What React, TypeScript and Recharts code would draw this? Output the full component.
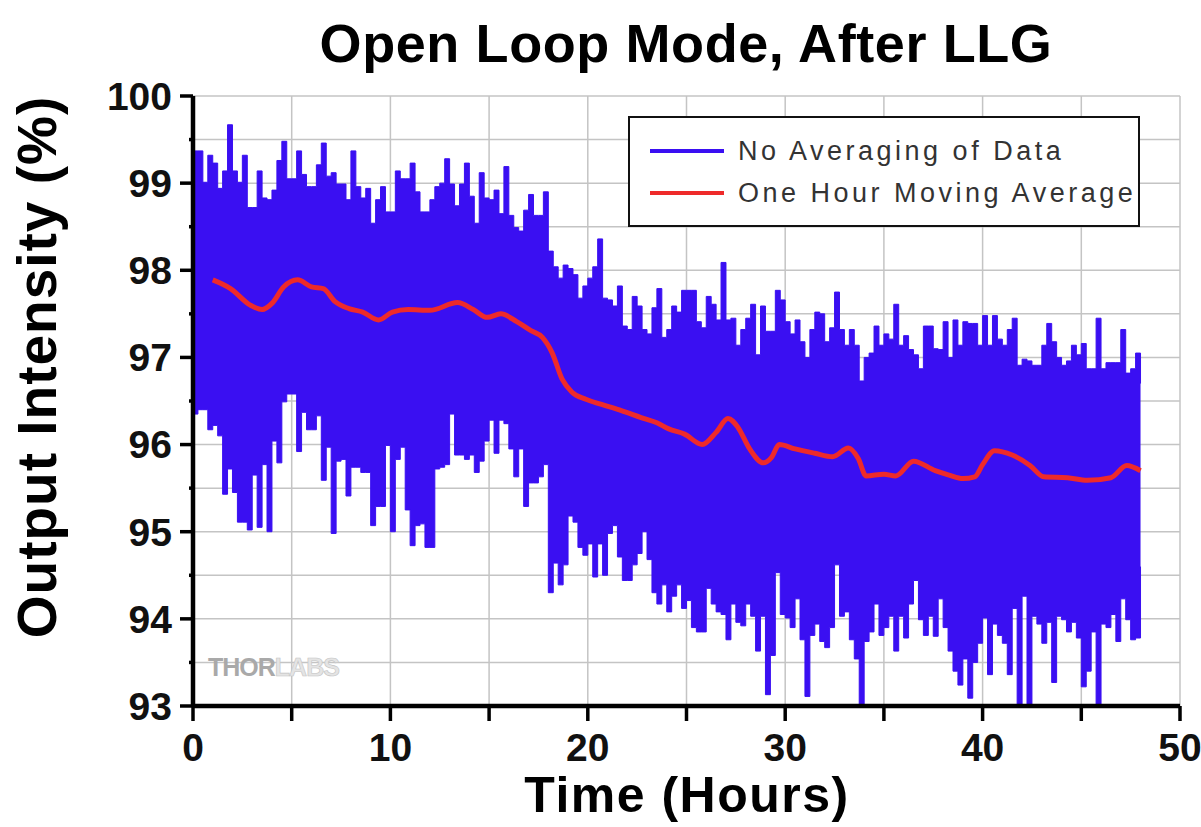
import React from "react";
import {
  ComposedChart,
  Area,
  Line,
  XAxis,
  YAxis,
  CartesianGrid,
  Legend,
} from "recharts";

// raw samples in 0.25 h steps (upper / lower edge of the noise band)
const SAMPLE_START = 0;
const SAMPLE_STEP = 0.25;

const rawHigh = [
  99.37, 99.37, 99.01, 99.32, 99.23, 98.94, 99.14, 99.67,
  99.14, 99.01, 99.32, 98.72, 98.72, 99.14, 98.83, 98.81,
  98.92, 99.26, 99.48, 99.05, 99.05, 99.37, 99.1, 98.96,
  98.96, 99.21, 99.46, 99.08, 99.12, 98.99, 98.99, 98.81,
  99.37, 98.96, 98.83, 98.94, 98.54, 98.81, 98.96, 98.67,
  98.67, 99.14, 99.05, 99.05, 99.23, 98.9, 98.67, 98.67,
  98.81, 98.96, 99.0, 99.28, 98.99, 98.74, 98.99, 99.23,
  98.85, 98.54, 99.12, 98.83, 98.81, 98.92, 98.65, 99.19,
  98.63, 98.49, 98.45, 98.69, 98.87, 98.63, 98.63, 98.9,
  98.22, 98.04, 97.91, 98.06, 98.02, 97.95, 97.68, 97.82,
  97.91, 98.04, 98.36, 97.68, 97.66, 97.59, 97.82, 97.36,
  97.32, 97.7, 97.59, 97.32, 97.27, 97.57, 97.79, 97.23,
  97.32, 97.59, 97.52, 97.77, 97.77, 97.77, 97.41, 97.34,
  97.7, 97.61, 97.43, 98.09, 97.43, 97.45, 97.14, 97.32,
  97.45, 97.61, 97.03, 97.59, 97.3, 97.3, 97.77, 97.66,
  97.41, 97.27, 97.43, 97.18, 97.0, 97.32, 97.52, 97.5,
  97.18, 97.34, 97.75, 97.32, 97.14, 97.32, 97.14, 96.73,
  97.0, 97.05, 97.36, 97.14, 97.27, 97.21, 97.61, 97.14,
  97.25, 97.09, 97.03, 96.87, 97.36, 97.36, 97.1, 97.09,
  97.41, 97.0, 97.43, 97.14, 97.41, 97.39, 97.39, 97.14,
  97.48, 97.14, 97.48, 97.21, 97.14, 97.32, 97.45, 96.91,
  96.98, 96.96, 96.91, 96.91, 97.14, 97.39, 97.18, 97.0,
  96.91, 96.96, 97.14, 97.03, 97.16, 96.87, 96.87, 97.45,
  96.87, 96.94, 96.94, 96.94, 97.32, 96.82, 96.87, 97.05,
  96.7,
];

const rawLow = [
  96.35, 96.4, 96.4, 96.17, 96.22, 96.1, 95.43, 95.72,
  95.45, 95.11, 95.11, 95.02, 95.65, 95.05, 95.77, 95.0,
  96.04, 95.79, 96.49, 96.58, 96.58, 95.92, 96.37, 96.17,
  96.17, 96.33, 95.59, 95.97, 94.98, 95.81, 95.83, 95.41,
  95.74, 95.74, 95.68, 95.68, 95.07, 95.29, 95.29, 95.99,
  95.0, 95.83, 95.97, 95.25, 94.84, 95.07, 95.09, 94.82,
  94.82, 95.72, 95.74, 95.77, 96.35, 95.88, 95.88, 95.83,
  95.88, 95.68, 95.81, 96.04, 96.28, 95.9, 96.28, 96.24,
  95.95, 95.63, 95.95, 95.29, 95.56, 95.56, 95.63, 95.77,
  94.3, 94.64, 94.39, 94.62, 95.18, 95.11, 94.82, 94.73,
  94.86, 94.48, 94.86, 94.5, 94.98, 95.07, 94.71, 94.44,
  94.44, 94.62, 94.75, 95.0, 94.68, 94.3, 94.17, 94.39,
  94.08, 94.26, 94.39, 94.12, 94.21, 93.9, 93.85, 93.85,
  94.35, 94.17, 94.08, 94.05, 93.76, 94.17, 93.96, 93.92,
  94.17, 94.03, 93.63, 94.03, 93.13, 93.58, 94.53, 94.05,
  94.01, 93.9, 94.23, 93.76, 93.11, 93.81, 93.94, 93.74,
  93.67, 93.9, 94.62, 94.03, 94.08, 93.76, 93.54, 93.0,
  93.74, 93.85, 94.17, 93.81, 93.9, 94.03, 93.63, 94.03,
  93.78, 94.17, 94.44, 93.99, 93.81, 94.03, 93.8, 94.23,
  93.9, 93.63, 93.4, 93.24, 93.54, 93.09, 93.5, 93.72,
  94.01, 93.36, 93.94, 93.81, 93.72, 93.36, 94.12, 93.0,
  94.26, 93.02, 94.03, 93.94, 93.72, 93.96, 93.27, 94.03,
  93.99, 93.85, 93.96, 93.78, 93.22, 93.4, 93.85, 93.02,
  93.94, 93.9, 94.05, 93.74, 94.23, 93.99, 93.76, 93.78,
  94.6,
];

// one hour moving average
const avgHours = [
  1.0, 1.9, 2.9, 3.5, 4.0, 4.6, 5.3, 6.0, 6.6, 7.2, 7.9, 8.6, 9.4, 10.1,
  10.9, 12.0, 13.4, 14.2, 14.9, 15.6, 16.4, 17.1, 17.7, 18.2, 18.7, 19.2,
  19.9, 20.7, 21.7, 22.7, 23.5, 24.1, 24.9, 25.8, 26.5, 27.1, 27.6, 28.2,
  28.9, 29.3, 29.7, 30.5, 31.5, 32.4, 33.2, 33.7, 34.1, 35.0, 35.6, 36.5,
  37.6, 38.3, 39.0, 39.6, 40.0, 40.6, 41.5, 42.4, 43.1, 44.3, 45.3, 46.5,
  47.3, 48.0,
];
const avgValues = [
  97.89, 97.79, 97.6, 97.55, 97.62, 97.81, 97.89, 97.81, 97.79, 97.64, 97.56,
  97.52, 97.43, 97.52, 97.55, 97.54, 97.63, 97.55, 97.46, 97.5, 97.41, 97.31,
  97.23, 97.05, 96.75, 96.6, 96.52, 96.46, 96.39, 96.31, 96.25, 96.18, 96.12,
  96.0, 96.14, 96.3, 96.2, 95.95, 95.79, 95.85, 96.0, 95.95, 95.9, 95.86,
  95.96, 95.84, 95.64, 95.66, 95.64, 95.81, 95.7, 95.65, 95.61, 95.63, 95.77,
  95.93, 95.88, 95.76, 95.63, 95.62, 95.59, 95.62, 95.76, 95.7,
];

const xTicks = [0, 5, 10, 15, 20, 25, 30, 35, 40, 45, 50];
const yTicks = [93, 93.5, 94, 94.5, 95, 95.5, 96, 96.5, 97, 97.5, 98, 98.5, 99, 99.5, 100];

const BLUE = "#3a0ff2";
const RED = "#ee2a2a";
const FONT = "'Liberation Sans', Arial, Helvetica, sans-serif";

const bandData = rawHigh.map((hi, i) => ({
  t: SAMPLE_START + i * SAMPLE_STEP,
  band: [rawLow[i], hi],
}));
const avgData = avgHours.map((t, i) => ({ t, avg: avgValues[i] }));

function YTick(props: any) {
  const { x, y, payload } = props;
  const major = Number.isInteger(payload.value);
  return (
    <g>
      <line
        x1={x + 8 + (major ? 0 : 9)}
        x2={x + 21}
        y1={y}
        y2={y}
        stroke="#000"
        strokeWidth={3.5}
      />
      {major && (
        <text
          x={x}
          y={y}
          dy="0.355em"
          textAnchor="end"
          fontFamily={FONT}
          fontWeight="bold"
          fontSize={39}
          fill="#111"
        >
          {payload.value}
        </text>
      )}
    </g>
  );
}

function LegendBox(props: any) {
  const { payload = [] } = props;
  return (
    <div
      style={{
        width: 508,
        height: 107,
        border: "2px solid #111",
        background: "#fff",
        position: "relative",
        fontFamily: FONT,
      }}
    >
      {payload.map((entry: any, i: number) => (
        <div
          key={entry.value}
          style={{
            position: "absolute",
            left: 20,
            top: 16 + i * 42,
            height: 34,
            display: "flex",
            alignItems: "center",
          }}
        >
          <div style={{ width: 74, height: 4, background: entry.color }} />
          <span
            style={{
              marginLeft: 14,
              fontSize: 27,
              letterSpacing: 3.5,
              color: "#333",
              whiteSpace: "nowrap",
            }}
          >
            {entry.value}
          </span>
        </div>
      ))}
    </div>
  );
}

export default function App() {
  return (
    <div
      style={{
        position: "absolute",
        left: 0,
        top: 0,
        width: 1201,
        height: 827,
        background: "#fff",
        fontFamily: FONT,
      }}
    >
      <ComposedChart
        width={1201}
        height={827}
        margin={{ top: 96, right: 21, left: 0, bottom: 0 }}
      >
        <CartesianGrid stroke="#c4c4c4" strokeWidth={1.5} />
        <XAxis
          type="number"
          dataKey="t"
          domain={[0, 50]}
          ticks={xTicks}
          allowDataOverflow
          height={121}
          tickSize={15}
          tickMargin={12}
          tickLine={{ stroke: "#000", strokeWidth: 3.5 }}
          axisLine={{ stroke: "#000", strokeWidth: 4.5 }}
          tick={{ fontSize: 39, fontWeight: "bold", fill: "#111", fontFamily: FONT }}
          tickFormatter={(v: number) => (v % 10 === 0 ? String(v) : "")}
        />
        <XAxis
          xAxisId="top"
          orientation="top"
          type="number"
          domain={[0, 50]}
          height={0}
          tick={false}
          tickLine={false}
          axisLine={{ stroke: "#000", strokeWidth: 4.5 }}
        />
        <YAxis
          type="number"
          domain={[93, 100]}
          ticks={yTicks}
          allowDataOverflow
          width={193}
          tickSize={13}
          tickMargin={8}
          tickLine={false}
          axisLine={{ stroke: "#000", strokeWidth: 4.5 }}
          tick={<YTick />}
          interval={0}
        />
        <YAxis
          yAxisId="right"
          orientation="right"
          type="number"
          domain={[93, 100]}
          width={0}
          tick={false}
          tickLine={false}
          axisLine={{ stroke: "#000", strokeWidth: 4.5 }}
        />
        <Area
          data={bandData}
          dataKey="band"
          name="No Averaging of Data"
          type="stepAfter"
          stroke={BLUE}
          strokeWidth={1}
          fill={BLUE}
          fillOpacity={1}
          dot={false}
          activeDot={false}
          legendType="line"
          isAnimationActive={false}
        />
        <Line
          data={avgData}
          dataKey="avg"
          name="One Hour Moving Average"
          type="monotone"
          stroke={RED}
          strokeWidth={5}
          dot={false}
          activeDot={false}
          legendType="line"
          isAnimationActive={false}
        />
        <Legend
          layout="horizontal"
          verticalAlign="middle"
          align="center"
          content={<LegendBox />}
          wrapperStyle={{ left: 628, top: 116, width: 512, height: 111 }}
        />
      </ComposedChart>

      <div
        style={{
          position: "absolute",
          left: 686,
          top: 16,
          transform: "translateX(-50%)",
          fontSize: 54,
          lineHeight: "54px",
          fontWeight: "bold",
          letterSpacing: 0.6,
          whiteSpace: "nowrap",
          color: "#000",
        }}
      >
        Open Loop Mode, After LLG
      </div>
      <div
        style={{
          position: "absolute",
          left: 37,
          top: 367,
          transform: "translate(-50%, -50%) rotate(-90deg)",
          fontSize: 55,
          lineHeight: "55px",
          fontWeight: "bold",
          letterSpacing: 1,
          whiteSpace: "nowrap",
          color: "#000",
        }}
      >
        Output Intensity (%)
      </div>
      <div
        style={{
          position: "absolute",
          left: 687,
          top: 770,
          transform: "translateX(-50%)",
          fontSize: 50,
          lineHeight: "50px",
          fontWeight: "bold",
          letterSpacing: 1.5,
          whiteSpace: "nowrap",
          color: "#000",
        }}
      >
        Time (Hours)
      </div>
      <div
        style={{
          position: "absolute",
          left: 208,
          top: 655,
          fontSize: 25,
          lineHeight: "25px",
          fontWeight: "bold",
          letterSpacing: -1,
          whiteSpace: "nowrap",
        }}
      >
        <span style={{ color: "#a9a9a9" }}>THOR</span>
        <span style={{ color: "#e4e4e4", WebkitTextStroke: "0.6px #c4c4c4" }}>LABS</span>
      </div>
    </div>
  );
}
